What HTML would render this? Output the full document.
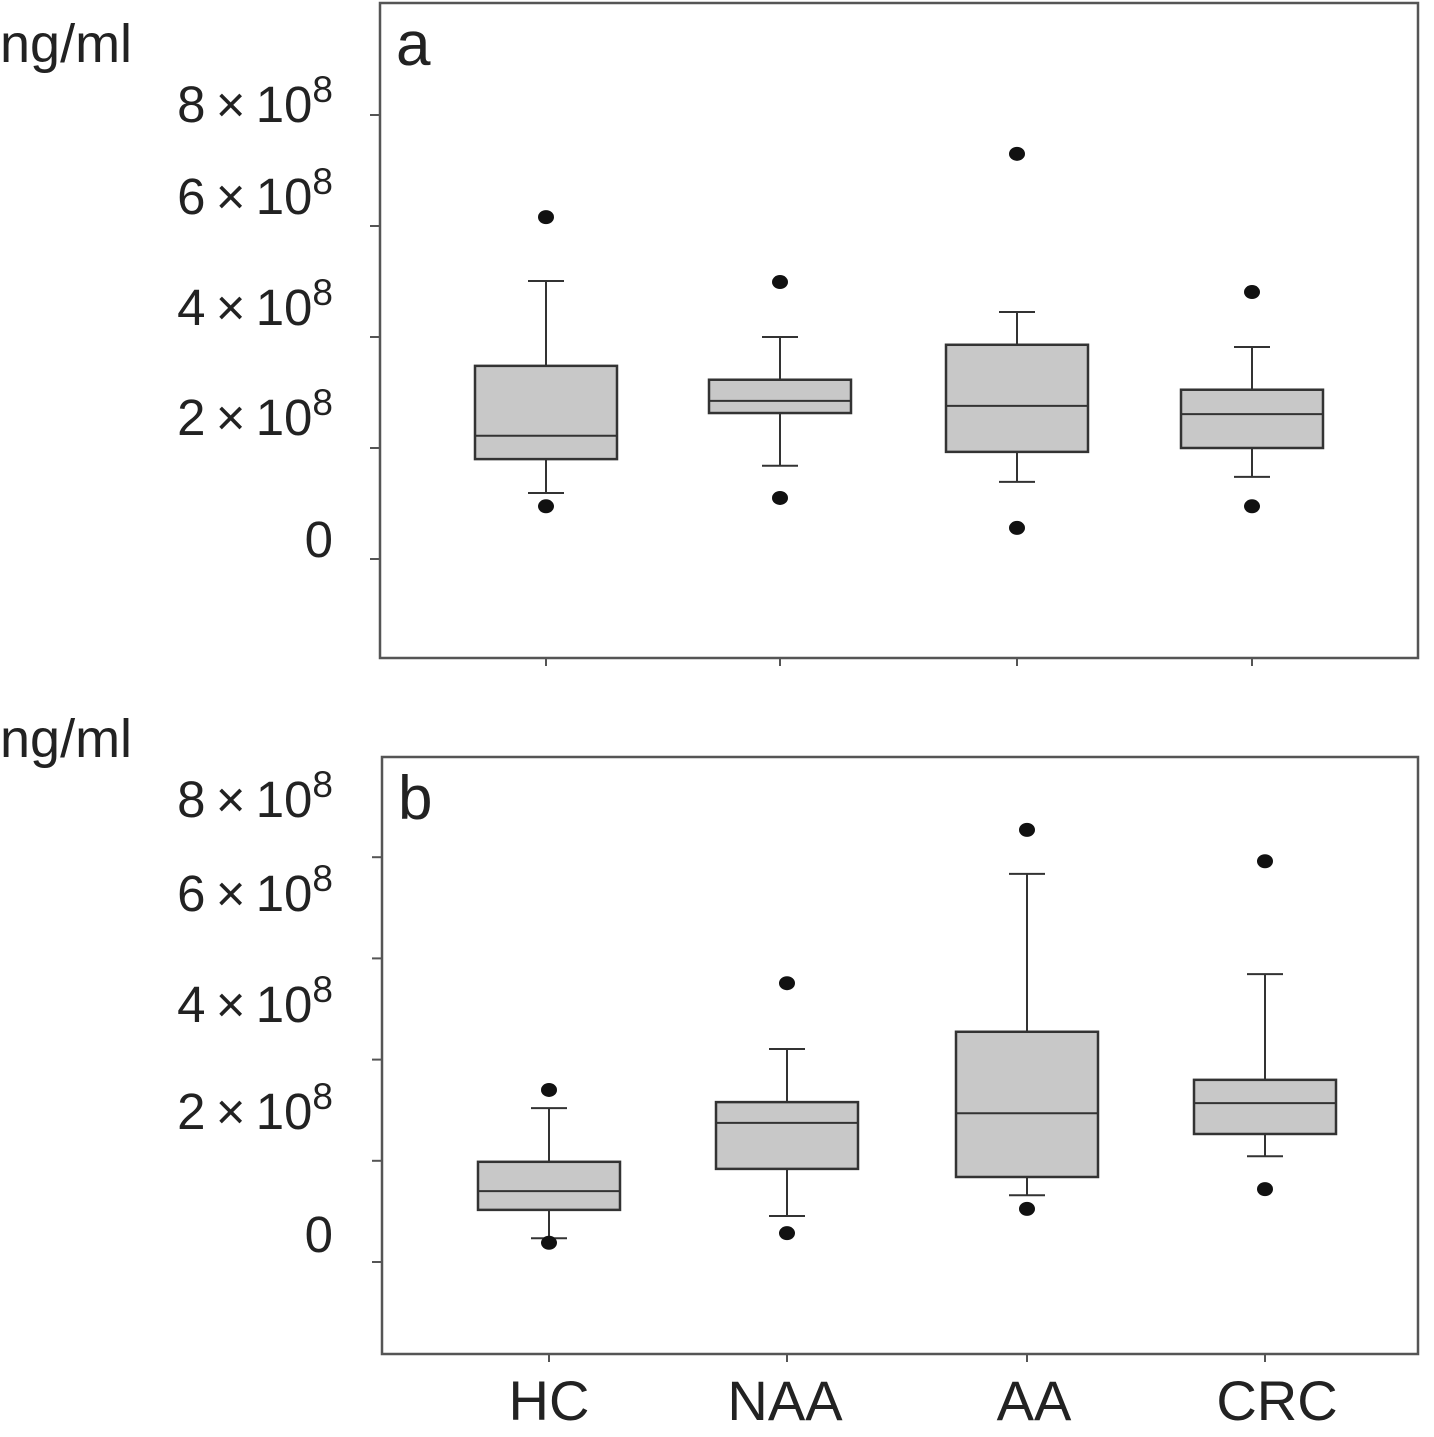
<!DOCTYPE html>
<html><head><meta charset="utf-8"><style>
body{margin:0;background:#fff;}
svg text{font-family:"Liberation Sans",sans-serif;fill:#222;}
</style></head><body>
<svg id="chart" width="1434" height="1432" xmlns="http://www.w3.org/2000/svg"></svg>
<script>
const categories=["HC","NAA","AA","CRC"];
const tickValues=[0,2,4,6,8];
const tickLabels=["0","2","4","6","8"];
// values in units of 1e8 ng/ml: [lowOutlier, whiskerLow, q1, median, q3, whiskerHigh, highOutlier]
const panelAValues=[
 [0.95,1.19,1.80,2.22,3.48,5.01,6.16],
 [1.10,1.68,2.63,2.85,3.23,4.00,4.99],
 [0.56,1.39,1.93,2.76,3.86,4.45,7.30],
 [0.95,1.48,2.00,2.61,3.05,3.82,4.81]];
const panelBValues=[
 [0.38,0.47,1.03,1.40,1.98,3.04,3.40],
 [0.57,0.91,1.84,2.75,3.16,4.21,5.51],
 [1.05,1.32,1.68,2.94,4.55,7.67,8.54],
 [1.44,2.09,2.53,3.14,3.60,5.69,7.92]];
const NS="http://www.w3.org/2000/svg";
const svg=document.getElementById('chart');
function mk(tag,attrs,parent){const e=document.createElementNS(NS,tag);for(const k in attrs)e.setAttribute(k,attrs[k]);(parent||svg).appendChild(e);return e;}
function panel(cfg){
 const g=mk('g',{});
 
 
 const y=v=>cfg.y0-v*cfg.unit;
 const x=i=>cfg.xs[i];
 const fr=mk('rect',{x:cfg.left,y:cfg.top,width:cfg.right-cfg.left,height:cfg.bottom-cfg.top,fill:'none',stroke:'#555','stroke-width':2.5},g);
 
 
 const lt=mk('text',{x:cfg.left+16,y:cfg.top+62,'font-size':62},g);lt.textContent=cfg.letter;
 
 
 const un=mk('text',{x:0,y:cfg.unitY,'font-size':54},g);un.textContent='ng/ml';
 
 
 tickValues.forEach((v,i)=>{
  const tk=mk('line',{x1:cfg.left-10,x2:cfg.left,y1:y(v),y2:y(v),stroke:'#555','stroke-width':2},g);
  
  
  const t=mk('text',{x:333,y:cfg.labelY[i],'font-size':51,'text-anchor':'end'},g);
  
  
  if(tickLabels[i]==="0"){t.textContent="0";}
  else{t.textContent=tickLabels[i]+"\u2009\u00d7\u200910";t.setAttribute('word-spacing','4');const s=mk('tspan',{dy:-20,'font-size':37},t);s.textContent="8";}
 });
 cfg.values.forEach((d,i)=>{
  const cx=x(i),hw=71;
  const tk=mk('line',{x1:cx,x2:cx,y1:cfg.bottom,y2:cfg.bottom+8,stroke:'#555','stroke-width':2},g);
  
  
  const bg=mk('g',{},g);
  
  
  mk('line',{x1:cx,x2:cx,y1:y(d[5]),y2:y(d[4]),stroke:'#333','stroke-width':2},bg);
  mk('line',{x1:cx,x2:cx,y1:y(d[2]),y2:y(d[1]),stroke:'#333','stroke-width':2},bg);
  mk('line',{x1:cx-18,x2:cx+18,y1:y(d[5]),y2:y(d[5]),stroke:'#333','stroke-width':2},bg);
  mk('line',{x1:cx-18,x2:cx+18,y1:y(d[1]),y2:y(d[1]),stroke:'#333','stroke-width':2},bg);
  mk('rect',{x:cx-hw,y:y(d[4]),width:2*hw,height:y(d[2])-y(d[4]),fill:'#c8c8c8',stroke:'#333','stroke-width':2.5},bg);
  mk('line',{x1:cx-hw,x2:cx+hw,y1:y(d[3]),y2:y(d[3]),stroke:'#333','stroke-width':2},bg);
  [d[0],d[6]].forEach(v=>{const c=mk('ellipse',{cx:cx,cy:y(v),rx:8,ry:7,fill:'#111'},bg);
   
   });
  if(cfg.showCats){const t=mk('text',{x:cfg.catXs[i],y:1420,'font-size':56,'text-anchor':'middle'},g);t.textContent=categories[i];
   
   }
 });
}
panel({letter:'a',left:380,right:1418,top:3,bottom:658,y0:559,unit:55.5,xs:[546,780,1017,1252],values:panelAValues,labelY:[557,435,325,214,122],unitY:62,showCats:false});
panel({letter:'b',left:382,right:1418,top:757,bottom:1354,y0:1262,unit:50.6,xs:[549,787,1027,1265],values:panelBValues,labelY:[1252,1129,1022,911,817],unitY:757,showCats:true,catXs:[549,785,1034,1277]});
</script>
</body></html>
